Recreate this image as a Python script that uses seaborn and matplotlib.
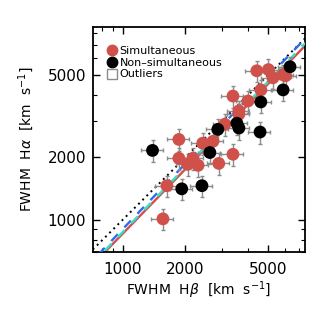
import numpy as np
import pandas as pd
import matplotlib
matplotlib.use("Agg")
import matplotlib.pyplot as plt
import matplotlib.ticker as mticker
from matplotlib.lines import Line2D
import seaborn as sns

# FWHM values (km/s)
sim_hb = [4400, 5000, 5260, 5880, 6050, 4600, 3990, 3380, 3610, 3610, 3090, 2710,
          2420, 1860, 1860, 2170, 2050, 2300, 2890, 3380, 1630, 1560]
sim_ha = [5230, 5300, 4840, 5000, 4950, 4230, 3740, 3950, 3350, 3230, 2890, 2390,
          2340, 2440, 1980, 1980, 1850, 1830, 1870, 2070, 1460, 1010]
non_hb = [6350, 5880, 4600, 3530, 3610, 2860, 4560, 2620, 1390, 1920, 2400]
non_ha = [5470, 4230, 3700, 2920, 2770, 2730, 2650, 2110, 2160, 1410, 1460]
err_frac = 0.12

# line fits: log10(Ha) = a + b*log10(Hb)
fit_red = (-0.175, 1.036)
fit_blue = (-0.195, 1.05)
fit_cyan = (-0.179, 1.04)

red = "#d0504a"
gray = "#8c8c8c"

df = pd.DataFrame({
    "hb": sim_hb + non_hb,
    "ha": sim_ha + non_ha,
    "group": ["Simultaneous"] * len(sim_hb) + ["Non-simultaneous"] * len(non_hb),
})

fig = plt.figure(figsize=(3.32, 3.11), dpi=100)
ax = fig.add_axes([0.280, 0.190, 0.639, 0.723])

xlim = (720, 7500)
ylim = (700, 8500)
xg = np.logspace(np.log10(xlim[0]) - 0.1, np.log10(xlim[1]) + 0.1, 50)

ax.plot(xg, xg, ls=(0, (1, 2)), color="black", lw=1.4, zorder=2)
for (a, b), c, ls, z in [(fit_blue, "#2a6cf0", (0, (4, 4)), 3), (fit_cyan, "#38e0c8", (4, (4, 4)), 3),
                          (fit_red, red, "-", 2)]:
    ax.plot(xg, 10 ** (a + b * np.log10(xg)), color=c, ls=ls, lw=1.7, zorder=z)

ax.errorbar(df["hb"], df["ha"], xerr=df["hb"] * err_frac, yerr=df["ha"] * err_frac,
            fmt="none", ecolor=gray, elinewidth=1.0, capsize=1.5, capthick=1.0, zorder=4)
sns.scatterplot(data=df, x="hb", y="ha", hue="group",
                palette={"Simultaneous": red, "Non-simultaneous": "black"},
                s=85, linewidth=0, ax=ax, zorder=5, legend=False)

ax.set_xscale("log")
ax.set_yscale("log")
ax.set_xlim(*xlim)
ax.set_ylim(*ylim)
for axis in (ax.xaxis, ax.yaxis):
    axis.set_major_locator(mticker.FixedLocator([1000, 2000, 5000]))
    axis.set_major_formatter(mticker.FixedFormatter(["1000", "2000", "5000"]))
    axis.set_minor_locator(mticker.LogLocator(subs=np.arange(1, 10)))
    axis.set_minor_formatter(mticker.NullFormatter())
ax.tick_params(which="both", direction="in", top=True, right=True, labelsize=11)
ax.tick_params(which="major", length=5, width=1)
ax.tick_params(which="minor", length=3, width=0.8)
ax.tick_params(axis="x", which="major", pad=7)
ax.tick_params(axis="y", which="major", pad=5)
for sp in ax.spines.values():
    sp.set_linewidth(1.3)

ax.set_xlabel(r"FWHM  H$\beta$  [km  s$^{-1}$]", fontsize=10, labelpad=2)
ax.set_ylabel(r"FWHM  H$\alpha$  [km  s$^{-1}$]", fontsize=10, labelpad=8)

handles = [
    Line2D([], [], marker="o", ls="", color=red, markersize=7.5),
    Line2D([], [], marker="o", ls="", color="black", markersize=7.5),
    Line2D([], [], marker="s", ls="", markerfacecolor="none", markeredgecolor=gray, markersize=7.5),
]
ax.legend(handles, ["Simultaneous", "Non\u2013simultaneous", "Outliers"], loc="upper left",
          frameon=False, fontsize=8, handletextpad=0.1, labelspacing=0.15,
          borderaxespad=0.3, handlelength=1.2, bbox_to_anchor=(0.02, 0.95))

fig.savefig("out.png", dpi=100)
